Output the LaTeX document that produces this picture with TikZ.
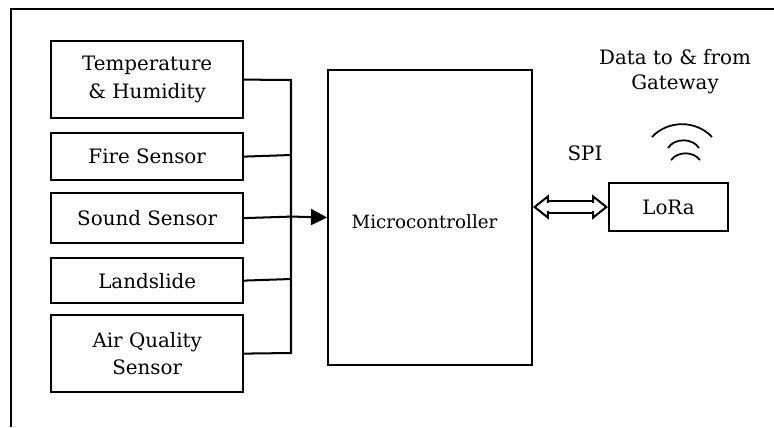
\documentclass[tikz,border=0pt]{standalone}
\usepackage{fontspec}
\setmainfont{DejaVu Serif}
\usetikzlibrary{arrows.meta}
\usetikzlibrary{positioning}

\begin{document}
\begin{tikzpicture}[x=0.02cm,y=-0.02cm,line width=1.15pt]
  \tikzstyle{label text}=[font=\fontsize{11.3}{15.8}\selectfont, align=center, text=black, inner sep=0pt]
  \tikzstyle{block}=[rectangle,draw=black,fill=white,label text, minimum width=3.84cm]
  \tikzstyle{flow}=[-{Triangle[length=0.32cm,width=0.32cm]}]
  \tikzstyle{spilink}=[double,double distance=0.19cm,{Triangle[open,fill=white,length=0.32cm,width=0.5cm]}-{Triangle[open,fill=white,length=0.32cm,width=0.5cm]}]

  \useasboundingbox (0,0) rectangle (774,427);

  \draw (11,427) -- (11,9) -- (774,9);

  \node[block,minimum height=1.54cm] at (147.2,79.6)  (temp)  {Temperature\\\& Humidity};
  \node[block,minimum height=0.94cm] at (147.2,156.6) (fire)  {Fire Sensor};
  \node[block,minimum height=1.00cm] at (147.2,218.1) (sound) {Sound Sensor};
  \node[block,minimum height=0.90cm] at (147.2,280.6) (land)  {Landslide};
  \node[block,minimum height=1.54cm] at (147.2,353.6) (air)   {Air Quality\\Sensor};

  \node[block,minimum width=4.08cm,minimum height=5.90cm] at (430,217.5) (mcu) {};
  \node[label text,font=\fontsize{10.4}{15}\selectfont] at (424.5,222) (mcutext) {Microcontroller};
  \node[block,minimum width=2.38cm,minimum height=0.96cm] at (668.5,207) (lora) {LoRa};

  \node[label text,font=\fontsize{11.3}{14.4}\selectfont] at (675,72)  (gateway) {Data to \& from\\Gateway};
  \node[label text] at (585,153) (spi)     {SPI};

  \coordinate (bustop) at (291,80);
  \coordinate (busfire) at (291,155);
  \coordinate (bussound) at (291,216.6);
  \coordinate (busland) at (291,279);
  \coordinate (busbot) at (291,353);
  \coordinate (busout) at (289,216.5);

  \draw (temp.east) -- (bustop) -- (busbot) -- (air.east);
  \draw (fire.east) -- (busfire);
  \draw (sound.east) -- (bussound);
  \draw (land.east) -- (busland);
  \draw[flow] (busout) -- (mcu.west);

  \coordinate (spileft) at (mcu.east |- lora.west);
  \draw[spilink] (spileft) -- (lora.west);
  \draw[white,line width=0.17cm,shorten <=0.26cm,shorten >=0.26cm] (spileft) -- (lora.west);

  % radio waves
  \coordinate (waveA) at (652,137);
  \coordinate (waveB) at (712,137);
  \coordinate (waveC) at (668,148);
  \coordinate (waveD) at (699,148);
  \coordinate (waveE) at (671,160);
  \coordinate (waveF) at (700,160);
  \draw[line width=1pt] (waveA) to[bend left=47] (waveB);
  \draw[line width=1pt] (waveC) to[bend left=58] (waveD);
  \draw[line width=1pt] (waveE) to[bend left=52] (waveF);
\end{tikzpicture}
\end{document}
